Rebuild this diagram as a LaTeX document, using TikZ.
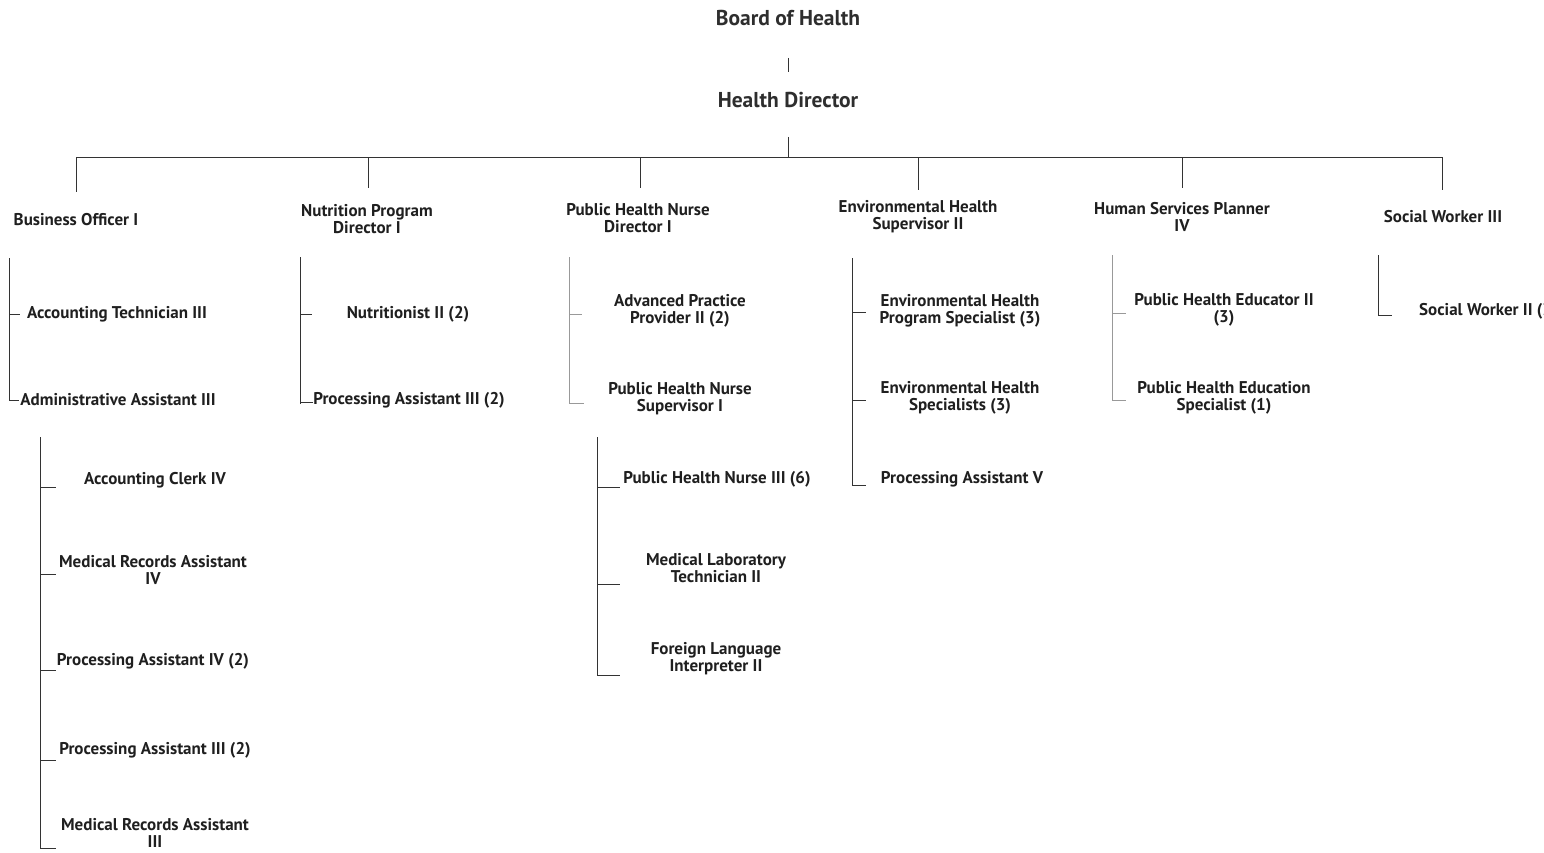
\documentclass[tikz,border=0pt]{standalone}
\usepackage{fontspec}
\newfontfamily\lab{PT Sans}
\begin{document}
\begin{tikzpicture}[x=1pt,y=-1pt,
  lbl/.style={font=\lab\bfseries\fontsize{17}{17}\selectfont, align=center, inner sep=0pt, text=black!88},
  ttl/.style={font=\lab\bfseries\fontsize{21.5}{23}\selectfont, inner sep=0pt, text=black!82},
  ln/.style={line width=0.8pt, draw=black!80},
  lng/.style={line width=0.8pt, draw=black!40},
]
\clip (0,0) rectangle (1544,852);
\useasboundingbox (0,0) rectangle (1544,852);

% top of the chart
\node[ttl] (board) at (788,18) {Board of Health};
\node[ttl] (hd) at (788,100) {Health Director};
\draw[ln, shorten <=32pt, shorten >=20pt] (board) -- (hd);

% main bar and drops
\coordinate (bar) at (788,157);
\coordinate (b1) at (76,157);
\coordinate (b2) at (368,157);
\coordinate (b3) at (640,157);
\coordinate (b4) at (918,157);
\coordinate (b5) at (1182,157);
\coordinate (b6) at (1442,157);
\draw[ln, shorten <=29pt] (hd) -- (bar);
\draw[ln] (b1) -- (b6);

% division heads
\node[lbl] (bo)  at (76,220)   {Business Officer I};
\node[lbl] (npd) at (367,219)  {Nutrition Program\\Director I};
\node[lbl] (phd) at (638,218)  {Public Health Nurse\\Director I};
\node[lbl] (ehs) at (918,217)  {Environmental Health\\Supervisor II};
\node[lbl] (hsp) at (1182,217) {Human Services Planner\\IV};
\node[lbl] (sw3) at (1443,217) {Social Worker III};

\coordinate (e1) at (76,192);
\coordinate (e2) at (368,188);
\coordinate (e3) at (640,188);
\coordinate (e4) at (918,190);
\coordinate (e5) at (1182,188);
\coordinate (e6) at (1442,190);
\foreach \i in {1,...,6} \draw[ln] (b\i) -- (e\i);

% ---- Business Officer I ----
\node[lbl] (at3) at (117,314) {Accounting Technician III};
\node[lbl] (aa3) at (118,400) {Administrative Assistant III};
\coordinate (s1t) at (9,258);
\coordinate (s1a) at (9,314);
\coordinate (s1b) at (9,400);
\draw[ln] (s1t) -- (s1b);
\draw[ln] (s1a) -- ++(11,0);
\draw[ln] (s1b) -- ++(10,0);

\node[lbl] (ac4)  at (155,480) {Accounting Clerk IV};
\node[lbl] (mra4) at (153,570) {Medical Records Assistant\\IV};
\node[lbl] (pa4)  at (153,661) {Processing Assistant IV (2)};
\node[lbl] (pa3a) at (155,750) {Processing Assistant III (2)};
\node[lbl] (mra3) at (155,833) {Medical Records Assistant\\III};
\coordinate (s1s) at (40,437);
\coordinate (s1e) at (40,848);
\draw[ln] (s1s) -- (s1e);
\foreach \yy in {487,574,670,760,848} \draw[ln] (40,\yy) -- (56,\yy);

% ---- Nutrition Program Director I ----
\node[lbl] (nut) at (408,314) {Nutritionist II (2)};
\node[lbl] (pa3b) at (409,400) {Processing Assistant III (2)};
\coordinate (s2t) at (300,257);
\coordinate (s2b) at (300,404);
\draw[ln] (s2t) -- (s2b);
\draw[ln] (300,314) -- (312,314);
\draw[ln] (300,402) -- (313,402);

% ---- Public Health Nurse Director I ----
\node[lbl] (app) at (680,311) {Advanced Practice\\Provider II (2)};
\node[lbl] (phs) at (680,399) {Public Health Nurse\\Supervisor I};
\coordinate (s3t) at (569,257);
\coordinate (s3b) at (569,404);
\draw[lng] (s3t) -- (s3b);
\draw[lng] (569,314) -- (582,314);
\draw[lng] (569,403) -- (584,403);

\node[lbl] (phn3) at (717,479) {Public Health Nurse III (6)};
\node[lbl] (mlt)  at (716,568) {Medical Laboratory\\Technician II};
\node[lbl] (fli)  at (716,659) {Foreign Language\\Interpreter II};
\coordinate (s3s) at (597,437);
\coordinate (s3e) at (597,675);
\draw[ln] (s3s) -- (s3e);
\foreach \yy in {487,584,675} \draw[ln] (597,\yy) -- (620,\yy);

% ---- Environmental Health Supervisor II ----
\node[lbl] (ehps) at (960,311) {Environmental Health\\Program Specialist (3)};
\node[lbl] (ehsp) at (960,398) {Environmental Health\\Specialists (3)};
\node[lbl] (pa5)  at (962,479) {Processing Assistant V};
\coordinate (s4t) at (852,258);
\coordinate (s4b) at (852,485);
\draw[ln] (s4t) -- (s4b);
\foreach \yy in {312,400,485} \draw[ln] (852,\yy) -- (866,\yy);

% ---- Human Services Planner IV ----
\node[lbl] (phe)  at (1224,310) {Public Health Educator II\\(3)};
\node[lbl] (phes) at (1224,398) {Public Health Education\\Specialist (1)};
\coordinate (s5t) at (1112,255);
\coordinate (s5b) at (1112,400);
\draw[lng] (s5t) -- (s5b);
\foreach \yy in {313,400} \draw[lng] (1112,\yy) -- (1126,\yy);

% ---- Social Worker III ----
\node[lbl, anchor=west] (sw2) at (1419,311) {Social Worker II (3)};
\coordinate (s6t) at (1378,255);
\coordinate (s6b) at (1378,315);
\draw[ln] (s6t) -- (s6b) -- ++(14,0);
\end{tikzpicture}
\end{document}
